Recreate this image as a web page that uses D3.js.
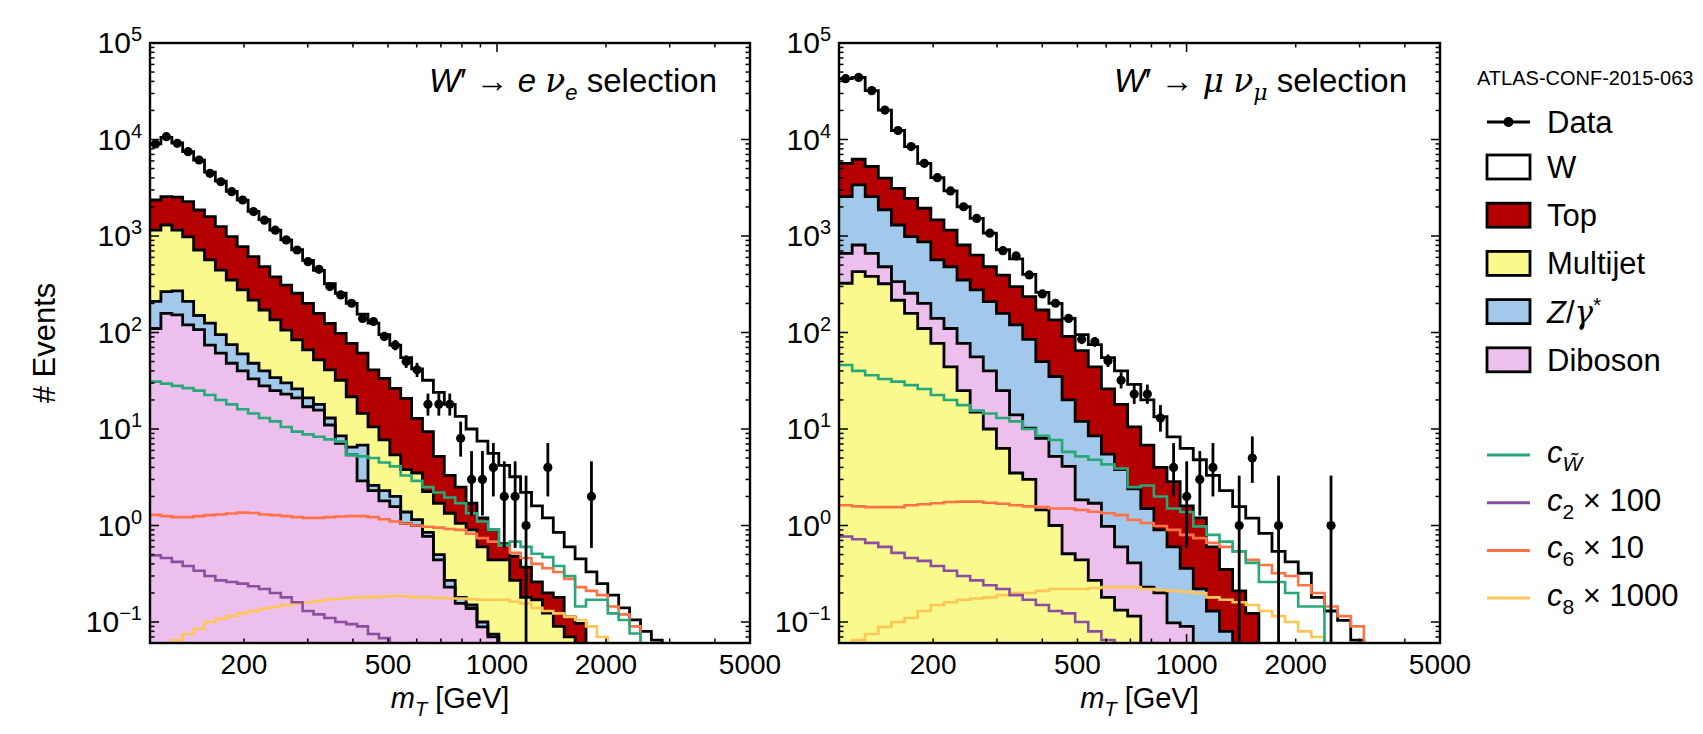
<!DOCTYPE html>
<html>
<head>
<meta charset="utf-8">
<script src="https://cdn.jsdelivr.net/npm/d3@7"></script>
<style>
  body { margin: 0; background: #fff; }
  svg text { font-family: "Liberation Sans", Arial, sans-serif; fill: #000; }
</style>
</head>
<body>
<svg id="chart" width="1703" height="734"></svg>
<script>
// ---- binning [GeV] ----
const eEdges = [110, 117.9, 126.4, 135.4, 145.2, 155.6, 166.7, 178.7, 191.6, 205.3, 220.0, 235.8, 252.8, 270.9,
  290.4, 311.2, 333.6, 357.5, 383.2, 410.7, 440.2, 471.8, 505.7, 542.0, 580.9, 622.6, 667.3, 715.2, 766.6, 821.6,
  880.6, 943.8, 1011.6, 1084.2, 1162.0, 1245.5, 1334.9, 1430.7, 1533.4, 1643.5, 1761.5, 1888.0, 2023.5, 2168.8,
  2324.5, 2491.4, 2670.3, 2862.0, 3067.5, 3287.8, 3523.9, 3776.9, 4048.1, 4338.7, 4650.2, 4984.1];
const muEdges = [110, 119.6, 129.9, 141.2, 153.5, 166.8, 181.3, 197.1, 214.2, 232.8, 253.0, 275.0, 298.9, 324.9,
  353.2, 383.9, 417.2, 453.5, 492.9, 535.7, 582.3, 632.9, 687.9, 747.7, 812.6, 883.2, 960.0, 1043.4, 1134.1,
  1232.7, 1339.8, 1456.2, 1582.8, 1720.3, 1869.8, 2032.3, 2208.9, 2400.9, 2609.6, 2836.4, 3082.9, 3350.8, 3642.0,
  3958.5, 4302.5, 4676.4, 5082.8];

// ---- electron channel (events per bin, null = empty) ----
const eData = [8980, 10700, 9120, 7480, 6130, 4460, 3650, 2880, 2360, 1790, 1460, 1150, 910, 716, 542, 452, 299, 245,
  201, 140, 130, 91, 74, 50, 41, 18, 18, 18, 8, 3, 3, 4, 2, 2, 1, null, 4, null, null, null, 2];
// stacked heights as drawn (each one includes the layers below it)
const eStackDiboson = [110, 158, 152, 120, 107, 74, 61, 48, 40, 33, 28, 25, 23, 21, 17, 15.7, 11, 7.1, 5.4, 2.9, 2.3,
  1.8, 1.57, 1.05, 1.0, 0.77, 0.44, 0.23, 0.156, 0.138, 0.089, 0.07];
const eStackZ = [210, 265, 270, 210, 150, 125, 95, 75, 60, 48, 40, 34, 30, 26, 21, 18, 13, 8.5, 6.5, 6.8, 2.6, 2.3,
  2.0, 1.38, 1.15, 0.85, 0.5, 0.27, 0.18, 0.15, 0.1, 0.075, 0.05];
const eStackMultijet = [1150, 1300, 1150, 980, 716, 565, 444, 350, 276, 217, 171, 135, 106, 84, 66, 52, 41, 32, 21.6,
  14.5, 10.5, 7.7, 5.4, 3.8, 3.5, 2.24, 1.7, 1.34, 1.05, 0.9, 0.6, 0.44, 0.44, 0.27, 0.18, 0.17, 0.124, 0.09, 0.07];
const eStackTop = [2360, 2560, 2530, 2270, 1860, 1590, 1250, 985, 776, 611, 481, 378, 309, 255, 200, 158, 124, 98, 77,
  61, 41, 33.5, 26.4, 20.8, 12.9, 9.4, 5.2, 3.3, 2.5, 1.7, 1.2, 0.9, 0.65, 0.48, 0.37, 0.26, 0.2, 0.18, 0.113, 0.097];
const eStackW = [9000, 10500, 9200, 7500, 6100, 4600, 3700, 2900, 2350, 1800, 1480, 1150, 910, 720, 560, 440, 320, 255,
  200, 155, 125, 95, 74, 55, 42, 32, 24, 18, 13.5, 10, 7.5, 5.6, 4.2, 3.2, 2.2, 1.6, 1.2, 0.85, 0.6, 0.45, 0.33, 0.25,
  0.19, 0.14, 0.105, 0.08, 0.065];
const eCW = [31, 29.5, 28, 26.5, 25, 22.5, 20, 18, 16, 14.5, 13, 12, 10.5, 9.4, 8.8, 8.3, 7.8, 7.4, 5.4, 5.2, 5.0, 4.5,
  4.1, 3.3, 2.9, 2.5, 2.2, 1.95, 1.7, 1.34, 1.1, 0.9, 0.63, 0.68, 0.6, 0.51, 0.47, 0.38, 0.3, 0.145, 0.17, 0.17, 0.123,
  0.105, 0.076];
const eC2 = [0.49, 0.46, 0.42, 0.38, 0.34, 0.3, 0.27, 0.26, 0.25, 0.235, 0.22, 0.2, 0.18, 0.16, 0.13, 0.12, 0.11, 0.1,
  0.095, 0.09, 0.075, 0.068];
const eC6 = [1.29, 1.25, 1.22, 1.22, 1.25, 1.28, 1.3, 1.33, 1.36, 1.35, 1.3, 1.28, 1.25, 1.22, 1.2, 1.2, 1.22, 1.24, 1.25,
  1.25, 1.22, 1.16, 1.1, 1.05, 1.0, 0.97, 0.95, 0.92, 0.9, 0.82, 0.74, 0.68, 0.62, 0.52, 0.46, 0.4, 0.36, 0.33, 0.28,
  0.23, 0.21, 0.19, 0.145, 0.12, 0.09];
const eC8 = [null, 0.05, 0.065, 0.075, 0.085, 0.1, 0.108, 0.115, 0.123, 0.13, 0.138, 0.143, 0.15, 0.155, 0.16, 0.165,
  0.172, 0.175, 0.178, 0.18, 0.182, 0.184, 0.186, 0.185, 0.18, 0.18, 0.178, 0.175, 0.175, 0.172, 0.17, 0.17, 0.17,
  0.162, 0.155, 0.14, 0.13, 0.123, 0.113, 0.105, 0.09, 0.07];

// ---- muon channel ----
const muData = [42700, 44000, 32100, 20200, 12400, 8440, 5670, 4020, 2930, 2010, 1520, 1070, 705, 621, 395, 251, 201,
  140, 85, 80, 51, 32, 23, 23, 13, 4, 2, 3, 4, null, 1, 5, null, 1, null, null, null, 1];
const muStackMultijet = [324, 427, 381, 320, 216, 158, 110, 77, 44, 25, 15, 10, 6.3, 3.5, 3, 1.45, 1, 0.51, 0.44, 0.27,
  0.18, 0.133, 0.115];
const muStackDiboson = [661, 807, 661, 480, 336, 255, 200, 140, 110, 77, 56, 40, 25, 14, 10.2, 8, 5.2, 4.1, 1.84, 1.7,
  0.98, 0.6, 0.41, 0.23, 0.2, 0.098, 0.09];
const muStackZ = [2560, 3390, 2560, 1870, 1300, 985, 870, 565, 480, 350, 276, 209, 158, 120, 85, 50, 35, 20, 12, 8.5,
  5.5, 3.8, 2.4, 1.5, 0.9, 0.6, 0.36, 0.22, 0.13, 0.08];
const muStackTop = [5670, 6240, 5250, 3980, 3120, 2450, 1940, 1470, 1150, 807, 634, 480, 394, 299, 235, 171, 135, 91,
  65, 44, 26, 18, 10.5, 6.8, 4.0, 2.85, 1.6, 1.2, 0.6, 0.35, 0.21, 0.123];
const muStackW = [42700, 44000, 32100, 20200, 12400, 8440, 5670, 4020, 2930, 2010, 1520, 1070, 720, 580, 400, 260, 200,
  140, 95, 75, 55, 40, 29, 20, 13.4, 8.3, 6.3, 4.8, 3.3, 2.3, 1.57, 1.19, 0.83, 0.54, 0.42, 0.32, 0.18, 0.13, 0.104,
  0.065];
const muCW = [46, 40, 36, 33, 31, 28.5, 26, 22.5, 20, 17.7, 15.5, 14.5, 13, 12, 10, 8.5, 7.7, 5.8, 5.2, 4.8, 4.3, 3.9,
  2.5, 2.6, 2.0, 1.5, 1.38, 0.98, 0.8, 0.68, 0.54, 0.41, 0.26, 0.26, 0.2, 0.145, 0.145];
const muC2 = [0.77, 0.72, 0.66, 0.6, 0.52, 0.46, 0.43, 0.38, 0.34, 0.3, 0.27, 0.24, 0.22, 0.19, 0.17, 0.15, 0.13, 0.123,
  0.1, 0.08, 0.065];
const muC6 = [1.62, 1.58, 1.55, 1.55, 1.55, 1.62, 1.66, 1.7, 1.75, 1.77, 1.77, 1.72, 1.68, 1.62, 1.58, 1.55, 1.5, 1.5,
  1.45, 1.39, 1.34, 1.28, 1.14, 1.06, 0.99, 0.9, 0.8, 0.74, 0.66, 0.6, 0.54, 0.44, 0.39, 0.32, 0.3, 0.24, 0.2, 0.145,
  0.115, 0.09];
const muC8 = [null, 0.065, 0.075, 0.089, 0.1, 0.11, 0.13, 0.15, 0.16, 0.17, 0.175, 0.18, 0.19, 0.2, 0.2, 0.21, 0.22,
  0.22, 0.22, 0.225, 0.23, 0.23, 0.23, 0.22, 0.215, 0.21, 0.205, 0.2, 0.18, 0.17, 0.16, 0.15, 0.13, 0.115, 0.1, 0.08,
  0.07];

// ---- axes ----
const xTickLabels = [200, 500, 1000, 2000, 5000];
const xDomain = [110, 5000];
const yDomain = [0.0606, 1e5];

// colours
const colTop = '#b40000', colMultijet = '#f9f98e', colZ = '#a2c9ec', colDiboson = '#edbfec', colW = '#ffffff';
const colCW = '#27a878', colC2 = '#8c4e9f', colC6 = '#fd7246', colC8 = '#fdc656';

const plotTop = 43, plotBottom = 643;
const FLOOR = 1e-4;

const svg = d3.select('#chart');
const defs = svg.append('defs');

function stepPoints(edges, vals) {
  let pts = [];
  let first = -1, last = -1;
  vals.forEach((v, i) => {
    if (v == null || i >= edges.length - 1) return;
    if (first < 0) first = i;
    last = i;
    pts.push([edges[i], v], [edges[i + 1], v]);
  });
  if (first > 0) pts.unshift([edges[first], FLOOR]);
  if (last >= 0 && last < edges.length - 2) pts.push([edges[last + 1], FLOOR]);
  return pts;
}

// upper edge of 68% Poisson interval
function poissonUp(n) {
  const m = n + 1;
  return m * Math.pow(1 - 1 / (9 * m) + 1 / (3 * Math.sqrt(m)), 3);
}

function addRichText(sel, parts, size) {
  let shift = 0;
  const small = Math.round(size * 0.68) + 'px';
  parts.forEach(p => {
    const ts = sel.append('tspan').text(p.t);
    if (p.it) ts.style('font-style', 'italic');
    if (p.serif) ts.style('font-family', '"DejaVu Serif", "Liberation Serif", serif');
    if (p.sub) {
      ts.attr('dy', 8 - shift).style('font-size', small);
      shift = 8;
    } else if (p.sup) {
      ts.attr('dy', -11 - shift).style('font-size', small);
      shift = -11;
    } else if (shift !== 0) {
      ts.attr('dy', -shift);
      shift = 0;
    }
  });
}

const panels = [
  {
    id: 'e', left: 150, right: 750, edges: eEdges, data: eData,
    stack: [
      { vals: eStackDiboson, color: colDiboson },
      { vals: eStackZ, color: colZ },
      { vals: eStackMultijet, color: colMultijet },
      { vals: eStackTop, color: colTop },
      { vals: eStackW, color: colW }
    ],
    signals: [
      { vals: eC8, color: colC8 }, { vals: eC2, color: colC2 },
      { vals: eC6, color: colC6 }, { vals: eCW, color: colCW }
    ],
    title: [{ t: 'W', it: true }, { t: '′ → ' }, { t: 'e', it: true }, { t: ' ' },
      { t: 'ν', it: true, serif: true }, { t: 'e', it: true, sub: true }, { t: ' selection' }]
  },
  {
    id: 'mu', left: 839, right: 1440, edges: muEdges, data: muData,
    stack: [
      { vals: muStackMultijet, color: colMultijet },
      { vals: muStackDiboson, color: colDiboson },
      { vals: muStackZ, color: colZ },
      { vals: muStackTop, color: colTop },
      { vals: muStackW, color: colW }
    ],
    signals: [
      { vals: muC8, color: colC8 }, { vals: muC2, color: colC2 },
      { vals: muC6, color: colC6 }, { vals: muCW, color: colCW }
    ],
    title: [{ t: 'W', it: true }, { t: '′ → ' }, { t: 'μ', it: true, serif: true }, { t: ' ' },
      { t: 'ν', it: true, serif: true }, { t: 'μ', it: true, serif: true, sub: true }, { t: ' selection' }]
  }
];

panels.forEach(p => {
  const x = d3.scaleLog().domain(xDomain).range([p.left, p.right]);
  const y = d3.scaleLog().domain(yDomain).range([plotBottom, plotTop]);
  const yc = v => Math.min(y(Math.max(v, FLOOR)), plotBottom + 40);

  defs.append('clipPath').attr('id', 'clip-' + p.id)
    .append('rect')
    .attr('x', p.left).attr('y', plotTop)
    .attr('width', p.right - p.left).attr('height', plotBottom - plotTop);

  const g = svg.append('g');
  const plot = g.append('g').attr('clip-path', 'url(#clip-' + p.id + ')');

  const area = d3.area().x(d => x(d[0])).y0(plotBottom + 40).y1(d => yc(d[1]));
  const line = d3.line().x(d => x(d[0])).y(d => yc(d[1]));

  // fills, top layer first so the lower ones paint over it
  p.stack.slice().reverse().forEach(s => {
    plot.append('path')
      .attr('d', area(stepPoints(p.edges, s.vals)))
      .attr('fill', s.color);
  });
  // outlines
  p.stack.forEach(s => {
    plot.append('path')
      .attr('d', line(stepPoints(p.edges, s.vals)))
      .attr('fill', 'none')
      .attr('stroke', '#000')
      .attr('stroke-width', 2.8);
  });
  // signal shapes
  p.signals.forEach(s => {
    plot.append('path')
      .attr('d', line(stepPoints(p.edges, s.vals)))
      .attr('fill', 'none')
      .attr('stroke', s.color)
      .attr('stroke-width', 2.6);
  });

  // data with error bars
  const pts = p.data.map((n, i) => ({ n: n, m: Math.sqrt(p.edges[i] * p.edges[i + 1]) }))
    .filter(d => d.n != null);
  plot.selectAll('line.err').data(pts).join('line')
    .attr('class', 'err')
    .attr('x1', d => x(d.m)).attr('x2', d => x(d.m))
    .attr('y1', d => yc(poissonUp(d.n)))
    .attr('y2', d => { const lo = d.n - Math.sqrt(d.n); return lo > 0 ? yc(lo) : plotBottom + 10; })
    .attr('stroke', '#000').attr('stroke-width', 2.8);
  plot.selectAll('circle.pt').data(pts).join('circle')
    .attr('class', 'pt')
    .attr('cx', d => x(d.m)).attr('cy', d => y(d.n))
    .attr('r', 4.6).attr('fill', '#000');

  // ticks (inside, on all four sides)
  const ticks = g.append('g').attr('stroke', '#000').attr('stroke-width', 1.5);
  for (let dec = -2; dec <= 5; dec++) {
    for (let m = 1; m <= 9; m++) {
      const v = m * Math.pow(10, dec);
      if (v < yDomain[0] || v > yDomain[1] * 1.0001) continue;
      const len = m === 1 ? 9 : 4.5;
      const yy = y(v);
      ticks.append('line').attr('x1', p.left).attr('x2', p.left + len).attr('y1', yy).attr('y2', yy);
      ticks.append('line').attr('x1', p.right).attr('x2', p.right - len).attr('y1', yy).attr('y2', yy);
      if (m === 1) {
        const t = g.append('text')
          .attr('x', p.left - 8).attr('y', yy + 10)
          .attr('text-anchor', 'end')
          .style('font-size', '30px');
        t.append('tspan').text('10');
        t.append('tspan').attr('dy', -12).style('font-size', '20px').text(dec < 0 ? '\u2212' + (-dec) : dec);
      }
    }
  }
  for (let dec = 2; dec <= 3; dec++) {
    for (let m = 1; m <= 9; m++) {
      const v = m * Math.pow(10, dec);
      if (v < xDomain[0] || v > xDomain[1] * 1.0001) continue;
      const len = m === 1 ? 9 : 4.5;
      const xx = x(v);
      ticks.append('line').attr('x1', xx).attr('x2', xx).attr('y1', plotBottom).attr('y2', plotBottom - len);
      ticks.append('line').attr('x1', xx).attr('x2', xx).attr('y1', plotTop).attr('y2', plotTop + len);
    }
  }
  g.selectAll('text.xt').data(xTickLabels).join('text')
    .attr('class', 'xt')
    .attr('x', d => x(d)).attr('y', 674)
    .attr('text-anchor', 'middle')
    .style('font-size', '28px')
    .text(d => d);

  // frame
  g.append('rect')
    .attr('x', p.left).attr('y', plotTop)
    .attr('width', p.right - p.left).attr('height', plotBottom - plotTop)
    .attr('fill', 'none').attr('stroke', '#000').attr('stroke-width', 2.4);

  // x title
  const xt = g.append('text')
    .attr('x', (p.left + p.right) / 2).attr('y', 708)
    .attr('text-anchor', 'middle').style('font-size', '29px');
  addRichText(xt, [{ t: 'm', it: true }, { t: 'T', it: true, sub: true }, { t: ' [GeV]' }], 29);

  // channel label
  const tt = g.append('text')
    .attr('x', p.right - 33).attr('y', 92)
    .attr('text-anchor', 'end').style('font-size', '33px');
  addRichText(tt, p.title, 33);
});

// y title
svg.append('text')
  .attr('transform', 'translate(55,343) rotate(-90)')
  .attr('text-anchor', 'middle')
  .style('font-size', '31px')
  .text('# Events');

// ---- legend ----
const legX = 1487, legTextX = 1547;
svg.append('text').attr('x', 1477).attr('y', 85).style('font-size', '20px').text('ATLAS-CONF-2015-063');

const lg = svg.append('g');
// data entry
lg.append('line').attr('x1', legX).attr('x2', legX + 43).attr('y1', 122).attr('y2', 122)
  .attr('stroke', '#000').attr('stroke-width', 2.8);
lg.append('circle').attr('cx', legX + 21.5).attr('cy', 122).attr('r', 5).attr('fill', '#000');
lg.append('text').attr('x', legTextX).attr('y', 133).style('font-size', '31px').text('Data');

const boxEntries = [
  { color: colW, label: [{ t: 'W' }] },
  { color: colTop, label: [{ t: 'Top' }] },
  { color: colMultijet, label: [{ t: 'Multijet' }] },
  { color: colZ, label: [{ t: 'Z', it: true }, { t: '/' }, { t: 'γ', it: true, serif: true }, { t: '*', sup: true }] },
  { color: colDiboson, label: [{ t: 'Diboson' }] }
];
boxEntries.forEach((e, i) => {
  const cy = 167 + i * 48.2;
  lg.append('rect').attr('x', legX).attr('y', cy - 12).attr('width', 43).attr('height', 24)
    .attr('fill', e.color).attr('stroke', '#000').attr('stroke-width', 2.8);
  const t = lg.append('text').attr('x', legTextX).attr('y', cy + 11).style('font-size', '31px');
  addRichText(t, e.label, 31);
});

const lineEntries = [
  { color: colCW, label: [{ t: 'c', it: true }, { t: 'W\u0303', it: true, sub: true }] },
  { color: colC2, label: [{ t: 'c', it: true }, { t: '2', sub: true }, { t: ' × 100' }] },
  { color: colC6, label: [{ t: 'c', it: true }, { t: '6', sub: true }, { t: ' × 10' }] },
  { color: colC8, label: [{ t: 'c', it: true }, { t: '8', sub: true }, { t: ' × 1000' }] }
];
lineEntries.forEach((e, i) => {
  const cy = 455 + i * 47.7;
  lg.append('line').attr('x1', legX).attr('x2', legX + 43).attr('y1', cy).attr('y2', cy)
    .attr('stroke', e.color).attr('stroke-width', 3);
  const t = lg.append('text').attr('x', legTextX).attr('y', cy + 8).style('font-size', '31px');
  addRichText(t, e.label, 31);
});
</script>
</body>
</html>
